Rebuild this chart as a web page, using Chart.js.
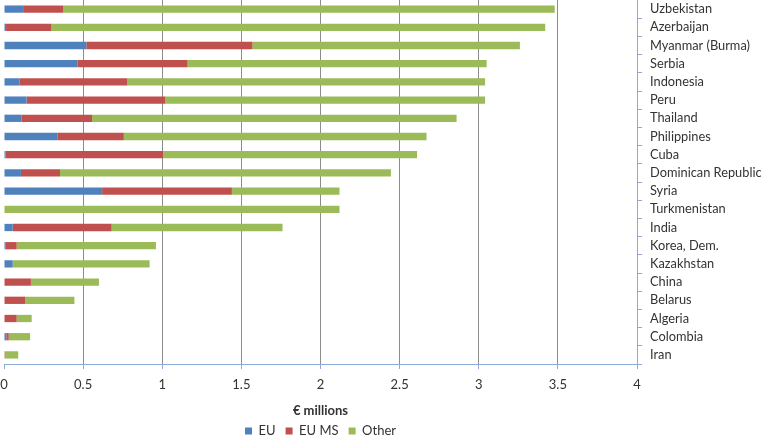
<!DOCTYPE html>
<html>
<head>
<meta charset="utf-8">
<script src="https://cdn.jsdelivr.net/npm/chart.js@4.4.1/dist/chart.umd.min.js"></script>
<style>
  html, body { margin: 0; padding: 0; background: #fff; }
  #wrap { width: 763px; height: 436px; }
</style>
</head>
<body>
<div id="wrap"><canvas id="grafico" width="763" height="436"></canvas></div>
<script>
// Países (de cima para baixo)
const paises = ["Uzbekistan", "Azerbaijan", "Myanmar (Burma)", "Serbia", "Indonesia", "Peru",
  "Thailand", "Philippines", "Cuba", "Dominican Republic", "Syria", "Turkmenistan", "India",
  "Korea, Dem.", "Kazakhstan", "China", "Belarus", "Algeria", "Colombia", "Iran"];

// Valores em milhões de euros
const valoresEU   = [0.126, 0.013, 0.52, 0.466, 0.097, 0.143, 0.112, 0.34, 0.01, 0.107,
  0.62, 0, 0.055, 0.008, 0.055, 0, 0, 0, 0.015, 0];
const valoresEUMS = [0.247, 0.287, 1.05, 0.694, 0.683, 0.877, 0.444, 0.417, 0.996, 0.247,
  0.82, 0, 0.625, 0.072, 0, 0.17, 0.135, 0.08, 0.015, 0.005];
const valoresOther = [3.107, 3.12, 1.69, 1.89, 2.26, 2.02, 2.304, 1.913, 1.604, 2.091,
  0.68, 2.12, 1.08, 0.88, 0.865, 0.43, 0.31, 0.095, 0.135, 0.085];

const ticksX = [0, 0.5, 1, 1.5, 2, 2.5, 3, 3.5, 4];

const fonte = { family: "Lato, 'Open Sans', sans-serif", size: 13 };
const corTexto = "#333333";
const corEixo = "#8eaad6";

new Chart(document.getElementById('grafico').getContext('2d'), {
    type: 'bar',
    data: {
        labels: paises,
        datasets: [
            { label: "EU", data: valoresEU, backgroundColor: "#4f81bd" },
            { label: "EU MS", data: valoresEUMS, backgroundColor: "#c0504d" },
            { label: "Other", data: valoresOther, backgroundColor: "#9bbb59" }
        ]
    },
    options: {
        indexAxis: 'y',
        responsive: false,
        animation: false,
        categoryPercentage: 1,
        barPercentage: 0.4,
        // fundo negativo para descer a legenda até perto da borda
        layout: { padding: { left: 4, top: 0, right: 0, bottom: -11.5 } },
        plugins: {
            tooltip: { enabled: false },
            legend: {
                position: 'bottom',
                fullSize: false,
                labels: { boxWidth: 7, boxHeight: 7, padding: 10, color: corTexto, font: fonte }
            }
        },
        scales: {
            x: {
                stacked: true,
                min: 0,
                max: 4,
                afterBuildTicks: (s) => { s.ticks = ticksX.map(v => ({ value: v })); },
                afterFit: (s) => { s.paddingLeft = 0; s.paddingRight = 0; },
                grid: {
                    color: (c) => c.tick && c.tick.value === 0 ? 'rgba(0,0,0,0)' : '#8c8c8c',
                    tickColor: corEixo,
                    tickLength: 5
                },
                border: { color: corEixo },
                ticks: { color: corTexto, font: fonte, padding: 8, maxRotation: 0,
                    callback: (v) => String(v) },
                title: {
                    display: true,
                    text: "€ millions",
                    color: corTexto,
                    font: { family: fonte.family, size: 13, weight: 'bold' },
                    padding: { top: 2.6, bottom: -4.3 }
                }
            },
            y: {
                stacked: true,
                position: 'right',
                afterFit: (s) => { s.width = 126; s.paddingTop = 0; s.paddingBottom = 0; },
                grid: { drawOnChartArea: false, tickColor: corEixo, tickLength: 5 },
                border: { color: corEixo },
                ticks: { color: corTexto, font: { family: fonte.family, size: 12.8 }, padding: 8,
                    crossAlign: 'near', autoSkip: false }
            }
        }
    }
});
</script>
</body>
</html>
